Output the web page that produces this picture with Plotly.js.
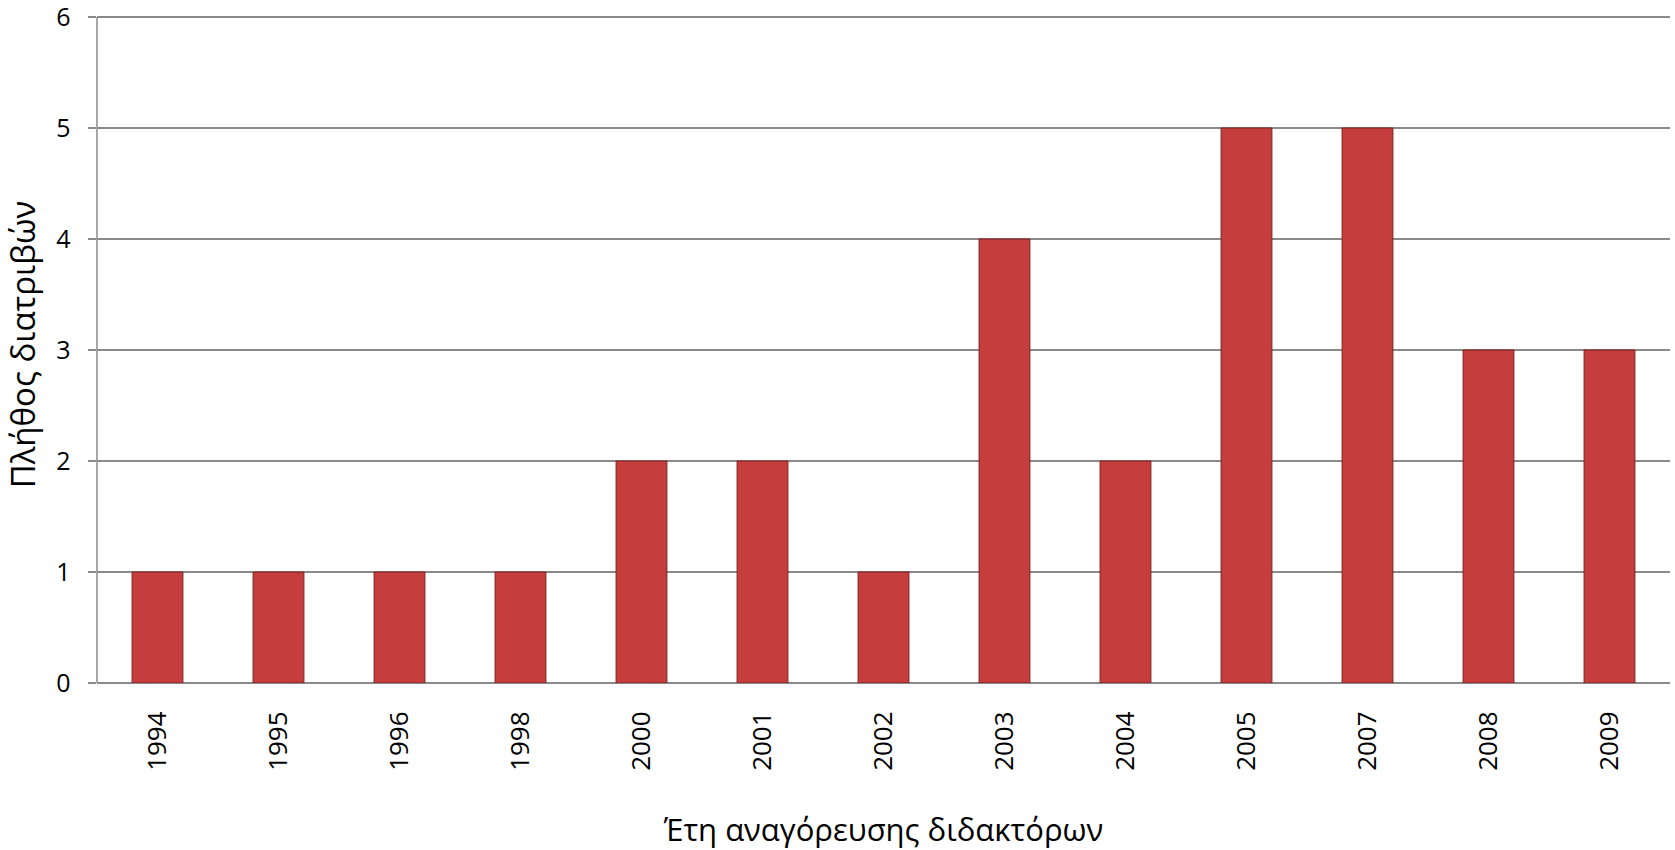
<!DOCTYPE html>
<html>
<head>
<meta charset="utf-8">
<script src="https://cdn.plot.ly/plotly-3.0.1.min.js"></script>
<style>
html,body{margin:0;padding:0;background:#fff;}
#chart{width:1675px;height:850px;}
</style>
</head>
<body>
<div id="chart"></div>
<script>
const years = ["1994","1995","1996","1998","2000","2001","2002","2003","2004","2005","2007","2008","2009"];
const theses = [1,1,1,1,2,2,1,4,2,5,5,3,3];
const yTicks = [0,1,2,3,4,5,6];
const xTitle = "Έτη αναγόρευσης διδακτόρων";
const yTitle = "Πλήθος διατριβών";

const fontFam = "Open Sans, Noto Sans, sans-serif";
const W = 1675, H = 850;
const mT = 6, mB = 167, mTop6 = 17;
const yMax = yTicks[yTicks.length - 1];
// extend the range a little so the top tick sits inside the plot area
const plotH = H - mT - mB;
const unitPx = (H - mTop6 - mB) / yMax;
const yTop = plotH / unitPx;

const gridCol = "#8a8a8a";

const trace = {
  type: "bar",
  x: years,
  y: theses,
  marker: {
    color: "#c63d3d",
    line: {color: "#7d2020", width: 1}
  },
  hoverinfo: "x+y"
};

const layout = {
  width: W,
  height: H,
  paper_bgcolor: "#ffffff",
  plot_bgcolor: "#ffffff",
  margin: {l: 97, r: 5, t: mT, b: mB},
  bargap: 0.58,
  showlegend: false,
  font: {family: fontFam, color: "#000"},
  xaxis: {
    type: "category",
    tickangle: -90,
    tickfont: {family: fontFam, size: 26, color: "#000"},
    showgrid: false,
    showline: false,
    ticks: "outside",
    ticklen: 17,
    tickcolor: "rgba(0,0,0,0)",
    zeroline: false,
    title: {text: xTitle, font: {family: fontFam, size: 31, color: "#000"}, standoff: 52}
  },
  yaxis: {
    range: [0, yTop],
    tickvals: yTicks,
    ticktext: yTicks.map(v => v + "\u2002"),
    tickfont: {family: fontFam, size: 25, color: "#000"},
    ticklabeloverflow: "allow",
    showgrid: true,
    gridcolor: gridCol,
    gridwidth: 1.5,
    showline: false,
    ticks: "outside",
    ticklen: 8,
    tickcolor: gridCol,
    tickwidth: 1.5,
    zeroline: true,
    zerolinecolor: gridCol,
    zerolinewidth: 1.5,
    title: {text: yTitle, font: {family: fontFam, size: 33, color: "#000"}, standoff: 12}
  },
  shapes: [{
    type: "line", xref: "paper", yref: "y",
    x0: 0, x1: 0, y0: 0, y1: yMax,
    line: {color: gridCol, width: 1.5},
    layer: "below"
  }]
};

Plotly.newPlot("chart", [trace], layout, {displayModeBar: false});
</script>
</body>
</html>
